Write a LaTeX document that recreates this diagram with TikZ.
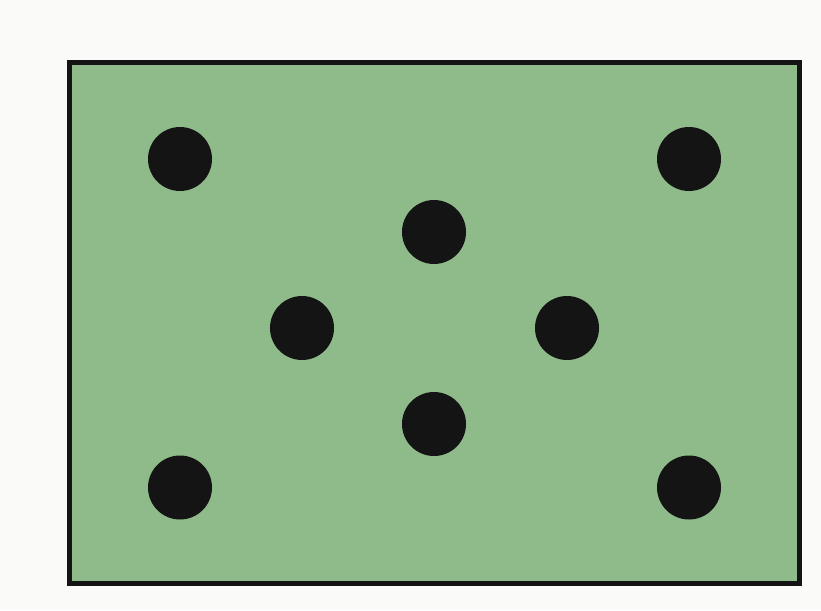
\documentclass[tikz,border=0pt]{standalone}
\usetikzlibrary{positioning}
\definecolor{paper}{HTML}{FAFAF9}
\definecolor{boardgreen}{HTML}{8FBA8A}
\definecolor{dotblack}{HTML}{141414}

\begin{document}
\begin{tikzpicture}[
  x=1pt, y=-1pt,
  board/.style ={draw=dotblack, fill=boardgreen, line width=5pt},
  pip/.style   ={fill=dotblack},
]
% page
\fill[paper] (0,0) rectangle (821,610);
\useasboundingbox (0,0) rectangle (821,610);

% board
\draw[board] (69,62.5) rectangle (799.5,583);

% dots
\foreach \px/\py in {180/159, 689/159, 434/232, 302/328,
                     567/328, 434/424, 180/487.5, 689/487.5}
  \fill[pip] (\px,\py) circle (32);

\end{tikzpicture}
\end{document}
